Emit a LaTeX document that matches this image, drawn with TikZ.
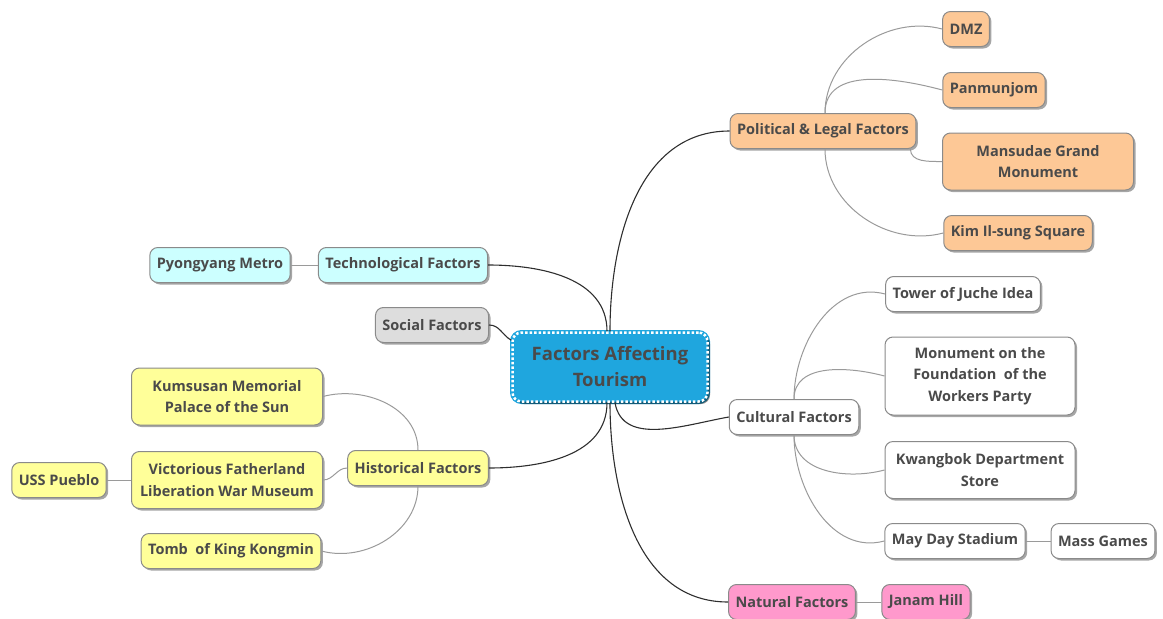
\documentclass[tikz,border=0pt]{standalone}
\usepackage{fontspec}
\setmainfont{Open Sans}
\usetikzlibrary{shadows}
\definecolor{rootblue}{HTML}{1FA6DE}
\definecolor{polorange}{HTML}{FDC896}
\definecolor{techcyan}{HTML}{CCFFFF}
\definecolor{socgray}{HTML}{DDDDDD}
\definecolor{histyellow}{HTML}{FFFF99}
\definecolor{natpink}{HTML}{FF99CC}
\definecolor{txtgray}{HTML}{4A4A4A}
\definecolor{boxgray}{HTML}{8A8A8A}
\definecolor{subline}{HTML}{9A9A9A}
\definecolor{mainline}{HTML}{2E2E2E}

\begin{document}
\begin{tikzpicture}[x=1pt,y=1pt,
    topic/.style={draw=boxgray, line width=1pt, rounded corners=8pt,
      inner xsep=7pt, inner ysep=7pt, minimum height=35pt, align=center,
      text=txtgray, font=\fontsize{14.5}{21.5}\selectfont\bfseries,
      drop shadow={shadow xshift=2pt, shadow yshift=-2pt, opacity=.35, fill=black}},
    twoline/.style={minimum width=191pt, minimum height=57pt},
    pol/.style={topic, fill=polorange},
    tech/.style={topic, fill=techcyan},
    soc/.style={topic, fill=socgray},
    hist/.style={topic, fill=histyellow},
    cult/.style={topic, fill=white},
    nat/.style={topic, fill=natpink},
    central/.style={rounded corners=9pt, fill=rootblue, align=center, text=txtgray,
      minimum width=195pt, minimum height=69pt,
      font=\fontsize{18.5}{26}\selectfont\bfseries,
      draw=white, line width=2.5pt, dash pattern=on 2.5pt off 2pt,
      preaction={draw=rootblue, solid, line width=5pt},
      drop shadow={shadow xshift=2.5pt, shadow yshift=-2.5pt, opacity=.45, fill=black}},
    mainedge/.style={draw=mainline, line width=1.1pt},
    subedge/.style={draw=subline, line width=1pt}
  ]
  \useasboundingbox (0,0) rectangle (1163,-619);

  % centre
  \node[central] (root) at (610,-367) {Factors Affecting\\Tourism};

  % political
  \node[pol] (polit) at (823,-131) {Political \& Legal Factors};
  \node[pol] (dmz) at (966,-29) {DMZ};
  \node[pol] (panmun) at (994,-90) {Panmunjom};
  \node[pol, twoline] (mansudae) at (1038,-161.5) {Mansudae Grand\\Monument};
  \node[pol] (kimsq) at (1018,-233) {Kim Il-sung Square};

  % technological and social
  \node[tech] (techno) at (403,-265) {Technological Factors};
  \node[tech] (metro) at (220,-265) {Pyongyang Metro};
  \node[soc] (social) at (432,-325) {Social Factors};

  % historical
  \node[hist] (histor) at (418,-468) {Historical Factors};
  \node[hist, twoline] (kumsusan) at (227,-396.5) {Kumsusan Memorial\\Palace of the Sun};
  \node[hist, twoline] (warmuseum) at (227,-480) {Victorious Fatherland\\Liberation War Museum};
  \node[hist] (pueblo) at (59,-480) {USS Pueblo};
  \node[hist] (kongmin) at (231,-551) {Tomb\ \ of King Kongmin};

  % cultural
  \node[cult] (cultur) at (794,-417) {Cultural Factors};
  \node[cult] (juche) at (963,-294) {Tower of Juche Idea};
  \node[cult, twoline, minimum width=190pt, minimum height=78pt] (workers) at (980,-376) {Monument on the\\Foundation\ \ of the\\Workers Party};
  \node[cult, twoline, minimum width=190pt] (kwangbok) at (980,-470) {Kwangbok Department\\Store};
  \node[cult] (mayday) at (955,-541) {May Day Stadium};
  \node[cult] (massgames) at (1103,-541) {Mass Games};

  % natural
  \node[nat] (natur) at (792,-602) {Natural Factors};
  \node[nat] (janam) at (926,-602) {Janam Hill};

  % main branches
  \draw[mainedge] (root.north) to[out=90,in=180] (polit.west);
  \draw[mainedge] ([xshift=-3pt]root.north) to[out=90,in=0] (techno.east);
  \draw[mainedge] (social.east) to[out=0,in=150] ([yshift=-9pt]root.north west);
  \draw[mainedge] ([xshift=-3pt]root.south) to[out=-90,in=0] (histor.east);
  \draw[mainedge] ([xshift=5pt]root.south) to[out=-80,in=190] (cultur.west);
  \draw[mainedge] (root.south) to[out=-90,in=180] (natur.west);

  % sub branches
  \draw[subedge] ([xshift=2pt]polit.north) to[out=90,in=165] (dmz.west);
  \draw[subedge] ([xshift=2pt]polit.north) to[out=90,in=165] (panmun.west);
  \draw[subedge] ([xshift=-6pt]polit.south east) to[out=-90,in=180] (mansudae.west);
  \draw[subedge] ([xshift=2pt]polit.south) to[out=-90,in=195] (kimsq.west);
  \draw[subedge] (techno.west) -- (metro.east);
  \draw[subedge] (histor.north) to[out=90,in=15] (kumsusan.east);
  \draw[subedge] (histor.west) to[out=180,in=0] (warmuseum.east);
  \draw[subedge] (histor.south) to[out=-90,in=-15] (kongmin.east);
  \draw[subedge] (warmuseum.west) -- (pueblo.east);
  \draw[subedge] (cultur.north) to[out=90,in=165] (juche.west);
  \draw[subedge] (cultur.north) to[out=90,in=165] (workers.west);
  \draw[subedge] (cultur.south) to[out=-90,in=195] (kwangbok.west);
  \draw[subedge] (cultur.south) to[out=-90,in=195] (mayday.west);
  \draw[subedge] (mayday.east) -- (massgames.west);
  \draw[subedge] (natur.east) -- (janam.west);
\end{tikzpicture}
\end{document}
